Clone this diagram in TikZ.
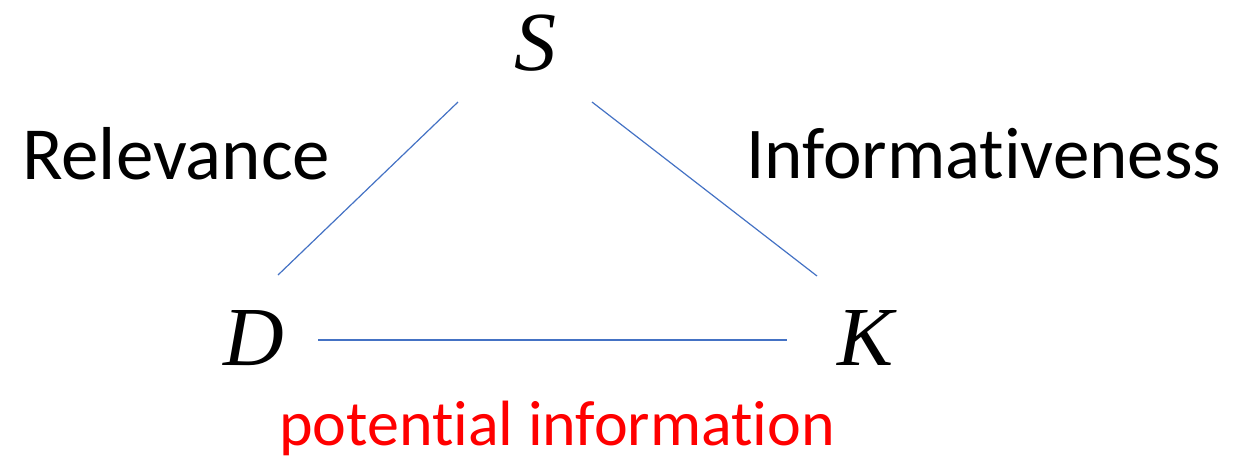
\documentclass[tikz,border=0pt]{standalone}
\usepackage{fontspec}
\setmainfont{Carlito}[Ligatures={NoCommon}]
\newfontfamily\varfont{Liberation Serif}
\definecolor{edgeblue}{HTML}{4472C4}
\definecolor{labelred}{HTML}{FF0000}
\begin{document}
\begin{tikzpicture}[x=1pt,y=-1pt,
  vertex/.style={font=\varfont\itshape\fontsize{84}{84}\selectfont, inner sep=0pt, anchor=base},
  caption/.style={font=\fontsize{75}{75}\selectfont, inner sep=0pt, anchor=base west},
  note/.style={font=\fontsize{64}{64}\selectfont, text=labelred, inner sep=0pt, anchor=base west},
  edge/.style={draw=edgeblue, line width=1.2pt}]
  \useasboundingbox (0,0) rectangle (1235,459);
  % vertices of the triangle
  \node[vertex] (S) at (535,70) {S};
  \node[vertex] (D) at (254,365) {D};
  \node[vertex] (K) at (866,365) {K};
  % end points of the sides
  \coordinate (sd1) at (458,102);
  \coordinate (sd2) at (278,275);
  \coordinate (sk1) at (592,102);
  \coordinate (sk2) at (817,276);
  \coordinate (dk1) at (318,340);
  \coordinate (dk2) at (787,340);
  \draw[edge] (sd1) -- (sd2);
  \draw[edge] (sk1) -- (sk2);
  \draw[edge] (dk1) -- (dk2);
  % side labels
  \node[caption] (rel) at (22,179) {Relevance};
  \node[caption, font=\fontsize{73}{73}\selectfont] (inf) at (746,178) {Informativeness};
  \node[note] (pot) at (279,445) {potential information};
\end{tikzpicture}
\end{document}
